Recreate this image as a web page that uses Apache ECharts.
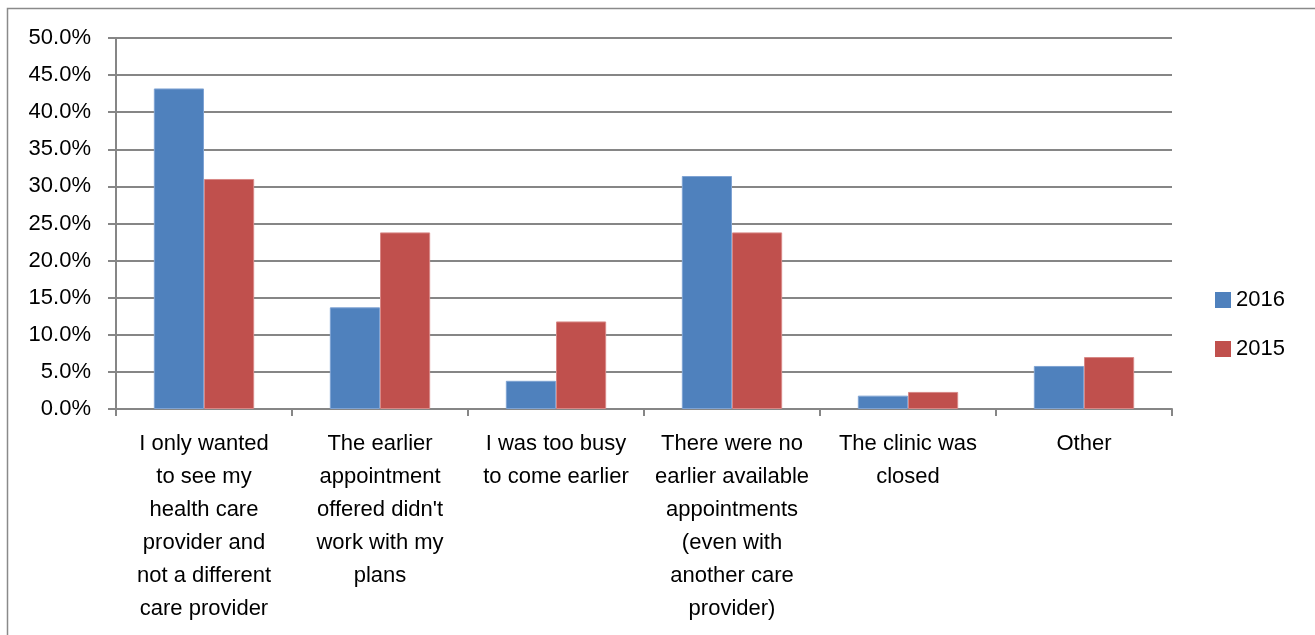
<!DOCTYPE html>
<html>
<head>
<meta charset="utf-8">
<script src="https://cdn.jsdelivr.net/npm/echarts@6/dist/echarts.min.js"></script>
<style>html,body{margin:0;padding:0;background:#fff}#c{width:1315px;height:635px}</style>
</head>
<body>
<div id="c"></div>
<script>
const categories = [
  "I only wanted\nto see my\nhealth care\nprovider and\nnot a different\ncare provider",
  "The earlier\nappointment\noffered didn't\nwork with my\nplans",
  "I was too busy\nto come earlier",
  "There were no\nearlier available\nappointments\n(even with\nanother care\nprovider)",
  "The clinic was\nclosed",
  "Other"
];
const seriesNames = ["2016", "2015"];
const values2016 = [43.2, 13.7, 3.8, 31.4, 1.8, 5.8];
const values2015 = [31.0, 23.8, 11.8, 23.8, 2.3, 7.0];

const FONT = "Liberation Sans";
const chart = echarts.init(document.getElementById('c'));
chart.setOption({
  animation: false,
  textStyle: { fontFamily: FONT },
  graphic: [{
    type: 'rect',
    shape: { x: 7.5, y: 8.5, width: 1400, height: 700 },
    style: { fill: 'none', stroke: '#8a8a8a', lineWidth: 1.5 },
    silent: true
  }],
  grid: { left: 116, right: 143, top: 38, bottom: 226, containLabel: false },
  legend: {
    orient: 'vertical',
    left: 1215,
    top: 289,
    padding: 0,
    itemWidth: 16,
    itemHeight: 16,
    itemGap: 27,
    icon: 'rect',
    itemStyle: { borderWidth: 0 },
    textStyle: { fontFamily: FONT, fontSize: 22, color: '#000', lineHeight: 22 },
    data: seriesNames
  },
  xAxis: {
    type: 'category',
    data: categories,
    axisLine: { lineStyle: { color: '#868686', width: 2 } },
    axisTick: { show: true, length: 7, lineStyle: { color: '#868686', width: 2 } },
    axisLabel: {
      interval: 0,
      margin: 18,
      fontFamily: FONT,
      fontSize: 22,
      lineHeight: 33,
      color: '#000',
      align: 'center',
      verticalAlign: 'top'
    }
  },
  yAxis: {
    type: 'value',
    min: 0,
    max: 50,
    interval: 5,
    axisLine: { show: true, lineStyle: { color: '#868686', width: 2 } },
    axisTick: { show: true, length: 8, lineStyle: { color: '#868686', width: 2 } },
    splitLine: { lineStyle: { color: '#868686', width: 2 } },
    axisLabel: {
      margin: 25,
      fontFamily: FONT,
      fontSize: 22,
      color: '#000',
      formatter: v => v.toFixed(1) + '%'
    }
  },
  series: [
    {
      name: seriesNames[0],
      type: 'bar',
      data: values2016,
      barGap: '0%',
      barCategoryGap: '43%',
      itemStyle: { color: '#4F81BD', borderColor: '#7FA3D3', borderWidth: 1 }
    },
    {
      name: seriesNames[1],
      type: 'bar',
      data: values2015,
      itemStyle: { color: '#C0504D', borderColor: '#D88886', borderWidth: 1 }
    }
  ]
});
</script>
</body>
</html>
